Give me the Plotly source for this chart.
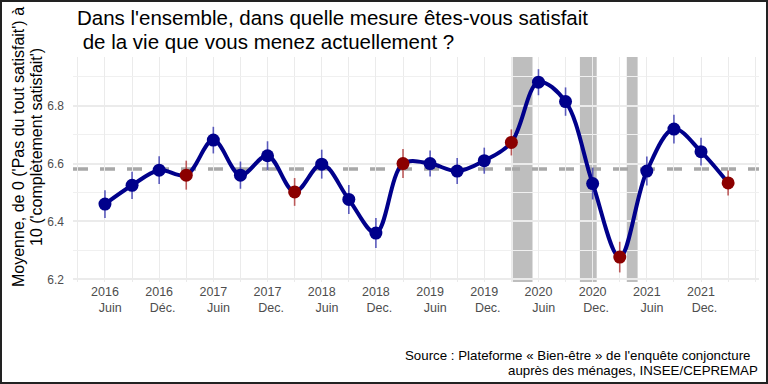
import plotly.graph_objects as go

# ---------------- Données ----------------
periodes = ["2016-06", "2016-09", "2016-12", "2017-03", "2017-06", "2017-09",
            "2017-12", "2018-03", "2018-06", "2018-09", "2018-12", "2019-03",
            "2019-06", "2019-09", "2019-12", "2020-03", "2020-06", "2020-09",
            "2020-12", "2021-03", "2021-06", "2021-09", "2021-12", "2022-03"]
satisfaction = [6.46, 6.525, 6.577, 6.56, 6.681, 6.56,
                6.627, 6.502, 6.598, 6.476, 6.36, 6.60,
                6.60, 6.574, 6.61, 6.673, 6.881, 6.814,
                6.531, 6.277, 6.574, 6.719, 6.641, 6.533]
erreur = [0.048, 0.047, 0.048, 0.050, 0.046, 0.047,
          0.050, 0.048, 0.050, 0.050, 0.052, 0.050,
          0.045, 0.045, 0.045, 0.045, 0.045, 0.049,
          0.055, 0.053, 0.050, 0.050, 0.048, 0.043]
# vagues de mars (en rouge)
vague_mars = [p.endswith("-03") for p in periodes]

tick_annees = ["2016", "2016", "2017", "2017", "2018", "2018",
               "2019", "2019", "2020", "2020", "2021", "2021"]
tick_mois = ["Juin", "Déc.", "Juin", "Dec.", "Juin", "Dec.",
             "Juin", "Dec.", "Juin", "Dec.", "Juin", "Dec."]

# périodes de confinement (en unités de trimestre sur l'axe)
confinements = [(15.05, 15.78), (17.53, 18.15), (19.26, 19.66)]

titre_l1 = "Dans l'ensemble, dans quelle mesure êtes-vous satisfait"
titre_l2 = "de la vie que vous menez actuellement ?"
titre_y_l1 = "Moyenne, de 0 ('Pas du tout satisfait') à"
titre_y_l2 = "10 ('complètement satisfait')"
source_l1 = "Source : Plateforme « Bien-être » de l'enquête conjoncture"
source_l2 = "auprès des ménages, INSEE/CEPREMAP"

# ---------------- Figure ----------------
x = list(range(len(periodes)))
moyenne = sum(satisfaction) / len(satisfaction)

BLUE = "#00008B"
RED = "#8B0000"
FONT = "Liberation Sans, Arial, sans-serif"
NB = "\u00a0"

fig = go.Figure()

fig.add_trace(go.Scatter(
    x=x, y=satisfaction, mode="lines",
    line=dict(color=BLUE, width=4, shape="spline", smoothing=1.0),
    hoverinfo="skip", showlegend=False))

for is_red, col, ecol in [(False, BLUE, "rgba(40,40,170,0.75)"), (True, RED, "rgba(170,40,40,0.75)")]:
    xs = [xi for xi, m in zip(x, vague_mars) if m == is_red]
    ys = [yi for yi, m in zip(satisfaction, vague_mars) if m == is_red]
    es = [ei for ei, m in zip(erreur, vague_mars) if m == is_red]
    fig.add_trace(go.Scatter(
        x=xs, y=ys, mode="markers",
        marker=dict(color=col, size=13, line=dict(width=0)),
        error_y=dict(type="data", array=es, visible=True, color=ecol,
                     thickness=1.6, width=0),
        showlegend=False))

for (a, b) in confinements:
    fig.add_shape(type="rect", xref="x", yref="paper", x0=a, x1=b, y0=0, y1=1,
                  fillcolor="#bebebe", line=dict(width=0), layer="between")

fig.add_shape(type="line", xref="paper", yref="y", x0=0, x1=1, y0=moyenne, y1=moyenne,
              line=dict(color="#a8a8a8", width=3.5, dash="15px,12px"), layer="between")

ML, MR, MT, MB = 73, 9, 57, 102
W, H = 768, 384
PW, PH = W - ML - MR, H - MT - MB

def px_x(px):
    return (px - ML) / PW

def px_y(py):
    return 1 + (MT - py) / PH

# cadre autour de l'image
fig.add_shape(type="rect", xref="paper", yref="paper",
              x0=px_x(1), x1=px_x(W - 1), y0=px_y(H - 1), y1=px_y(1),
              line=dict(color="#222222", width=2), fillcolor="rgba(0,0,0,0)", layer="above")

tickvals = list(range(0, 24, 2))
ticktext = [f"{a}<br>{NB * (3 if m == 'Juin' else 2)}{m}" for a, m in zip(tick_annees, tick_mois)]

fig.update_layout(
    width=W, height=H, autosize=False,
    margin=dict(l=ML, r=MR, t=MT, b=MB),
    paper_bgcolor="white", plot_bgcolor="white",
    font=dict(family=FONT, color="#4d4d4d"),
    xaxis=dict(range=[-1.18, 24.14], tickmode="array", tickvals=tickvals, ticktext=ticktext,
               showgrid=True, gridcolor="#ebebeb", gridwidth=1.3, zeroline=False,
               showline=False, ticks="", tickfont=dict(size=12.5, color="#4d4d4d"),
               minor=dict(tickmode="array", tickvals=list(range(-1, 25)), showgrid=True,
                          gridcolor="#ebebeb", gridwidth=1.1)),
    yaxis=dict(range=[6.191, 6.968], tickmode="array", tickvals=[6.2, 6.4, 6.6, 6.8],
               ticktext=["6.2", "6.4", "6.6", "6.8"],
               showgrid=True, gridcolor="#ebebeb", gridwidth=1.5, zeroline=False,
               showline=False, ticks="", tickfont=dict(size=12, color="#4d4d4d"),
               ticklabelstandoff=8,
               minor=dict(tickmode="array", tickvals=[6.3, 6.5, 6.7, 6.9], showgrid=True,
                          gridcolor="#f0f0f0", gridwidth=0.8)),
)

ann = [
    dict(text=titre_l1, x=px_x(75), y=px_y(17.5), xanchor="left", yanchor="middle",
         font=dict(size=20.5, color="black")),
    dict(text=NB + titre_l2, x=px_x(75), y=px_y(41.5), xanchor="left", yanchor="middle",
         font=dict(size=20.5, color="black")),
    dict(text=titre_y_l1, x=px_x(18), y=px_y(147), xanchor="center", yanchor="middle",
         textangle=-90, font=dict(size=16, color="black")),
    dict(text=titre_y_l2, x=px_x(36), y=px_y(147), xanchor="center", yanchor="middle",
         textangle=-90, font=dict(size=16, color="black")),
    dict(text=source_l1 + NB + NB, x=px_x(759.5), y=px_y(355), xanchor="right", yanchor="middle",
         font=dict(size=13.3, color="black")),
    dict(text=source_l2, x=px_x(759.5), y=px_y(370), xanchor="right", yanchor="middle",
         font=dict(size=13.3, color="black")),
]
for a in ann:
    fig.add_annotation(xref="paper", yref="paper", showarrow=False, **a)

fig.write_html("out.html", config={"displayModeBar": False},
               post_script="document.body.style.margin='0';")
